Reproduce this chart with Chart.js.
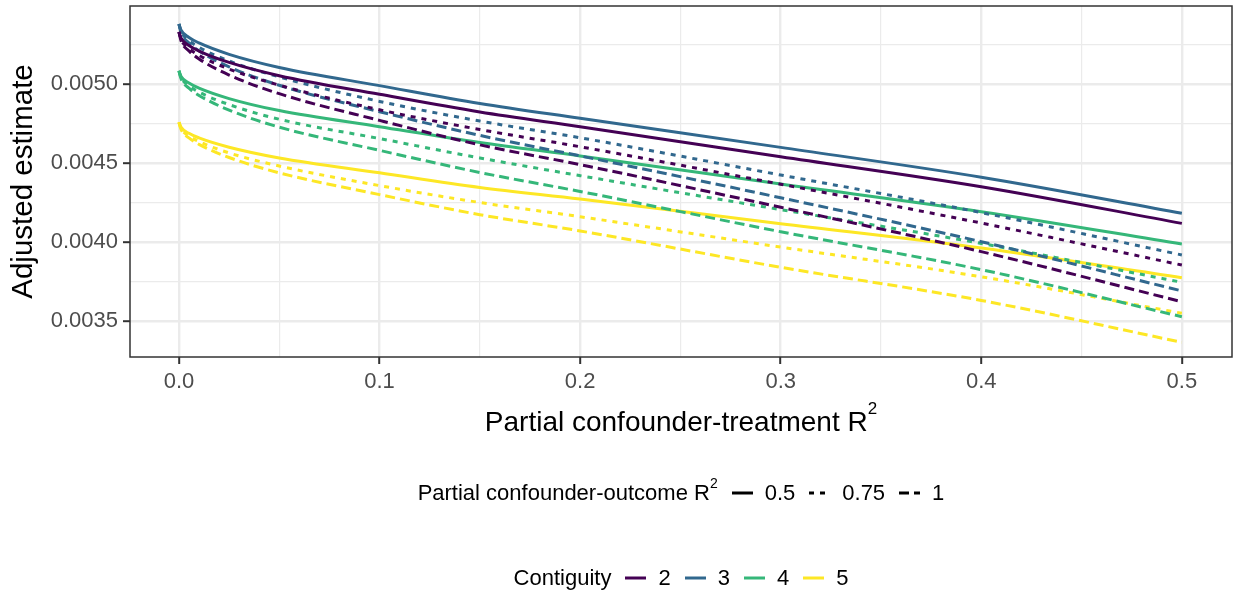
<!DOCTYPE html>
<html>
<head>
<meta charset="utf-8">
<title>Adjusted estimate</title>
<script src="https://cdn.jsdelivr.net/npm/chart.js@4.4.1/dist/chart.umd.min.js"></script>
<style>
  body { margin: 0; background: #fff; font-family: "Liberation Sans", Arial, sans-serif; }
  #wrap { position: relative; width: 1235px; height: 590px; overflow: hidden; }
  #chart { position: absolute; left: 0; top: 0; }
  .xtitle { position: absolute; left: 130px; width: 1102px; top: 408px; text-align: center;
            font-size: 28px; line-height: 28px; color: #000; white-space: nowrap; }
  .xtitle sup { font-size: 17px; line-height: 0; vertical-align: 17px; }
  .legend { position: absolute; left: 130px; width: 1102px; display: flex; justify-content: center;
            align-items: center; font-size: 22px; line-height: 22px; color: #000; white-space: nowrap; }
  .legend sup { font-size: 14px; line-height: 0; vertical-align: 12px; }
  .legend .ttl { margin-right: 14px; }
  .legend svg { margin-right: 12px; display: block; }
  .legend .lab { margin-right: 14px; }
  .legend .lab:last-child { margin-right: 0; }
</style>
</head>
<body>
<div id="wrap">
  <canvas id="chart" width="1235" height="590"></canvas>
  <div class="xtitle">Partial confounder-treatment R<sup>2</sup></div>
  <div class="legend" id="legendLt" style="top:482px"></div>
  <div class="legend" id="legendCol" style="top:567px"></div>
</div>
<script>
/*===== DATA =====*/
// x: partial confounder-treatment R2
const treatR2 = [0, 0.001, 0.005, 0.01, 0.025, 0.05, 0.1, 0.15, 0.2, 0.3, 0.4, 0.5]

// legend groups
const contiguity = ['2', '3', '4', '5']
const outcomeR2 = ['0.5', '0.75', '1']

// adjusted estimates (contiguity / outcome R2)
const est2_050 = [0.005330, 0.005292, 0.005244, 0.005209, 0.005137, 0.005053, 0.004935, 0.004823, 0.004730, 0.004540, 0.004350, 0.004118]
const est2_075 = [0.005330, 0.005284, 0.005226, 0.005182, 0.005095, 0.004993, 0.004837, 0.004712, 0.004603, 0.004366, 0.004120, 0.003854]
const est2_100 = [0.005330, 0.005276, 0.005209, 0.005159, 0.005057, 0.004939, 0.004770, 0.004615, 0.004490, 0.004220, 0.003939, 0.003622]

const est3_050 = [0.005380, 0.005342, 0.005295, 0.005260, 0.005188, 0.005105, 0.004990, 0.004877, 0.004783, 0.004599, 0.004410, 0.004182]
const est3_075 = [0.005380, 0.005334, 0.005276, 0.005233, 0.005146, 0.005045, 0.004890, 0.004766, 0.004660, 0.004424, 0.004186, 0.003918]
const est3_100 = [0.005380, 0.005327, 0.005260, 0.005210, 0.005109, 0.004992, 0.004825, 0.004675, 0.004545, 0.004280, 0.004002, 0.003690]

const est4_050 = [0.005084, 0.005049, 0.005006, 0.004974, 0.004908, 0.004832, 0.004730, 0.004630, 0.004545, 0.004367, 0.004192, 0.003987]
const est4_075 = [0.005084, 0.005042, 0.004989, 0.004949, 0.004870, 0.004777, 0.004655, 0.004532, 0.004420, 0.004205, 0.003991, 0.003745]
const est4_100 = [0.005084, 0.005035, 0.004974, 0.004928, 0.004835, 0.004727, 0.004580, 0.004440, 0.004320, 0.004065, 0.003825, 0.003527]

const est5_050 = [0.004758, 0.004727, 0.004688, 0.004659, 0.004600, 0.004532, 0.004438, 0.004345, 0.004272, 0.004116, 0.003962, 0.003774]
const est5_075 = [0.004758, 0.004720, 0.004672, 0.004636, 0.004564, 0.004481, 0.004357, 0.004250, 0.004160, 0.003968, 0.003780, 0.003549]
const est5_100 = [0.004758, 0.004714, 0.004659, 0.004618, 0.004535, 0.004438, 0.004300, 0.004173, 0.004070, 0.003840, 0.003630, 0.003365]

// ticks
const xTicks = [0, 0.05, 0.1, 0.15, 0.2, 0.25, 0.3, 0.35, 0.4, 0.45, 0.5]
const xTickLabels = ['0.0', '', '0.1', '', '0.2', '', '0.3', '', '0.4', '', '0.5']
const yTicks = [0.0035, 0.00375, 0.004, 0.00425, 0.0045, 0.00475, 0.005, 0.00525]
const yTickLabels = ['0.0035', '', '0.0040', '', '0.0045', '', '0.0050', '']

/*===== STYLE =====*/
const contColors = ['#440154', '#31688E', '#35B779', '#FDE725']
const lineDashes = [[], [5, 6], [10, 5]]

const seriesByCont = [
    [est2_050, est2_075, est2_100],
    [est3_050, est3_075, est3_100],
    [est4_050, est4_075, est4_100],
    [est5_050, est5_075, est5_100]
]

const datasets = []
contiguity.forEach((c, ci) => {
    outcomeR2.forEach((r, ri) => {
        datasets.push({
            label: 'Contiguity ' + c + ', R2 ' + r,
            data: treatR2.map((x, i) => ({x: x, y: seriesByCont[ci][ri][i]})),
            borderColor: contColors[ci],
            borderWidth: 3,
            borderDash: lineDashes[ri],
            pointRadius: 0,
            fill: false,
            cubicInterpolationMode: 'monotone'
        })
    })
})

const isMajor = (list, labels, v) => {
    const i = list.findIndex(t => Math.abs(t - v) < 1e-9)
    return i >= 0 && labels[i] !== ''
}

// panel border drawn on top like ggplot's theme_bw
const panelBorder = {
    id: 'panelBorder',
    afterDatasetsDraw(chart) {
        const {ctx, chartArea: a} = chart
        ctx.save()
        ctx.strokeStyle = '#333333'
        ctx.lineWidth = 1.5
        ctx.strokeRect(a.left, a.top, a.right - a.left, a.bottom - a.top)
        ctx.restore()
    }
}

const ctx = document.getElementById('chart').getContext('2d')
const myChart = new Chart(ctx, {
    type: 'line',
    data: { datasets: datasets },
    plugins: [panelBorder],
    options: {
        responsive: false,
        animation: false,
        devicePixelRatio: 1,
        layout: { padding: { left: 0, top: 6, right: 3, bottom: 0 } },
        plugins: { legend: { display: false }, tooltip: { enabled: false } },
        scales: {
            x: {
                type: 'linear',
                min: -0.0244,
                max: 0.525,
                afterBuildTicks: s => { s.ticks = xTicks.map(v => ({value: v})) },
                afterFit: s => { s.height = 233; s.paddingLeft = 0; s.paddingRight = 0 },
                border: { display: false },
                grid: {
                    color: '#EBEBEB',
                    lineWidth: c => isMajor(xTicks, xTickLabels, c.tick.value) ? 2.4 : 1.2,
                    tickColor: c => isMajor(xTicks, xTickLabels, c.tick.value) ? '#333333' : 'rgba(0,0,0,0)',
                    tickWidth: 2,
                    tickLength: 7
                },
                ticks: {
                    autoSkip: false,
                    maxRotation: 0,
                    padding: 5,
                    color: '#4D4D4D',
                    font: { family: '"Liberation Sans", Arial, sans-serif', size: 22 },
                    callback: (v) => {
                        const i = xTicks.findIndex(t => Math.abs(t - v) < 1e-9)
                        return i >= 0 ? xTickLabels[i] : ''
                    }
                },
                title: { display: false }
            },
            y: {
                type: 'linear',
                min: 0.003272,
                max: 0.005494,
                afterBuildTicks: s => { s.ticks = yTicks.map(v => ({value: v})) },
                afterFit: s => { s.width = 130; s.paddingTop = 0; s.paddingBottom = 0 },
                border: { display: false },
                grid: {
                    color: '#EBEBEB',
                    lineWidth: c => isMajor(yTicks, yTickLabels, c.tick.value) ? 2.4 : 1.2,
                    tickColor: c => isMajor(yTicks, yTickLabels, c.tick.value) ? '#333333' : 'rgba(0,0,0,0)',
                    tickWidth: 2,
                    tickLength: 7
                },
                ticks: {
                    autoSkip: false,
                    padding: 5,
                    color: '#4D4D4D',
                    font: { family: '"Liberation Sans", Arial, sans-serif', size: 22 },
                    callback: (v) => {
                        const i = yTicks.findIndex(t => Math.abs(t - v) < 1e-12)
                        return i >= 0 ? yTickLabels[i] : ''
                    }
                },
                title: {
                    display: true,
                    text: 'Adjusted estimate',
                    color: '#000000',
                    padding: { top: 6, bottom: 0 },
                    font: { family: '"Liberation Sans", Arial, sans-serif', size: 29.5 }
                }
            }
        }
    }
})

/*===== LEGENDS =====*/
const keySvg = (color, dash) =>
    '<svg width="21" height="10"><line x1="0" y1="5" x2="21" y2="5" stroke="' + color +
    '" stroke-width="3" stroke-dasharray="' + (dash.length ? dash.join(',') : 'none') + '"/></svg>'

const legendLt = document.getElementById('legendLt')
let html = '<span class="ttl">Partial confounder-outcome R<sup>2</sup></span>'
outcomeR2.forEach((r, i) => { html += keySvg('#000000', lineDashes[i]) + '<span class="lab">' + r + '</span>' })
legendLt.innerHTML = html

const legendCol = document.getElementById('legendCol')
html = '<span class="ttl">Contiguity</span>'
contiguity.forEach((c, i) => { html += keySvg(contColors[i], []) + '<span class="lab">' + c + '</span>' })
legendCol.innerHTML = html
</script>
</body>
</html>
